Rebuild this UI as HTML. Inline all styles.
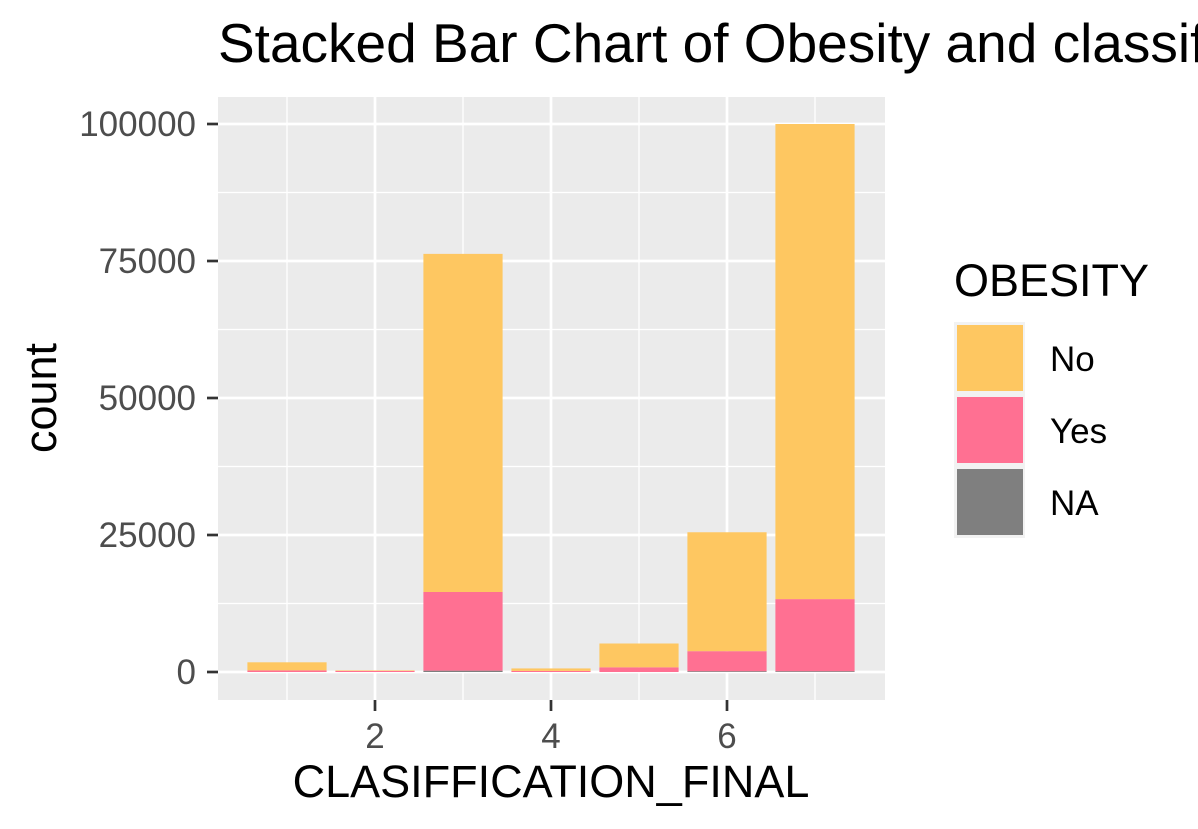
<!DOCTYPE html>
<html><head><meta charset="utf-8">
<style>
body{margin:0;background:#fff;}
svg{display:block;font-family:"Liberation Sans",Arial,sans-serif;}
</style></head>
<body>
<svg id="chart" width="1198" height="829">
<text x="218" y="62" font-size="55" fill="#000">Stacked Bar Chart of Obesity and classification</text>
<rect x="218" y="97" width="667" height="603" fill="#ebebeb"/>
<g id="grid"></g>
<g id="bars"></g>
<g id="axes"></g>
<text x="551" y="797" font-size="45" text-anchor="middle" fill="#000">CLASIFFICATION_FINAL</text>
<text transform="translate(56,398) rotate(-90)" font-size="45" text-anchor="middle" fill="#000">count</text>
<g>
<text x="954" y="296" font-size="45" fill="#000">OBESITY</text>
<rect x="954" y="322" width="71" height="216" fill="#f2f2f2"/>
<rect x="957" y="325" width="66" height="66" fill="#fec761"/>
<rect x="957" y="397" width="66" height="66" fill="#ff7092"/>
<rect x="957" y="469" width="66" height="66" fill="#7f7f7f"/>
<text x="1050" y="371" font-size="35" fill="#000">No</text>
<text x="1050" y="443" font-size="35" fill="#000">Yes</text>
<text x="1050" y="515" font-size="35" fill="#000">NA</text>
</g>
</svg>
<script>
const categories=[1,2,3,4,5,6,7];
const naValues=[0,0,250,0,0,150,150];
const yesValues=[300,200,14350,200,850,3650,13150];
const noValues=[1470,100,61700,450,4350,21700,86700];
const yTicks=[0,25000,50000,75000,100000];
const xTicks=[2,4,6];
const NS="http://www.w3.org/2000/svg";
const yS=v=>672-v*548/100000;
const xS=c=>287+(c-1)*88;
const bw=0.9*88;
function mk(tag,attrs,parent){const e=document.createElementNS(NS,tag);for(const k in attrs)e.setAttribute(k,attrs[k]);parent.appendChild(e);return e;}
const grid=document.getElementById('grid'),bars=document.getElementById('bars'),axes=document.getElementById('axes');
for(let i=0;i<yTicks.length-1;i++){const v=(yTicks[i]+yTicks[i+1])/2;const l=mk('line',{x1:218,x2:885,y1:yS(v),y2:yS(v),stroke:'#fff','stroke-width':1.3},grid);

}
[1,3,5,7].forEach(v=>{const l=mk('line',{x1:xS(v),x2:xS(v),y1:97,y2:700,stroke:'#fff','stroke-width':1.3},grid);

});
yTicks.forEach(v=>{const l=mk('line',{x1:218,x2:885,y1:yS(v),y2:yS(v),stroke:'#fff','stroke-width':2.7},grid);


const t=mk('line',{x1:207,x2:218,y1:yS(v),y2:yS(v),stroke:'#333','stroke-width':2.7},axes);


const tx=mk('text',{x:196,y:yS(v)+12,'font-size':35,'text-anchor':'end',fill:'#4d4d4d'},axes);tx.textContent=v;

});
xTicks.forEach(v=>{const l=mk('line',{x1:xS(v),x2:xS(v),y1:97,y2:700,stroke:'#fff','stroke-width':2.7},grid);


const t=mk('line',{x1:xS(v),x2:xS(v),y1:700,y2:711,stroke:'#333','stroke-width':2.7},axes);


const tx=mk('text',{x:xS(v),y:748,'font-size':35,'text-anchor':'middle',fill:'#4d4d4d'},axes);tx.textContent=v;

});
categories.forEach((c,i)=>{
 let base=0;
 [[naValues[i],'#7f7f7f','na'],[yesValues[i],'#ff7092','yes'],[noValues[i],'#fec761','no']].forEach(([v,col,n])=>{
  if(v<=0)return;
  const r=mk('rect',{x:xS(c)-bw/2,y:yS(base+v),width:bw,height:yS(base)-yS(base+v),fill:col},bars);
  
  
  base+=v;
 });
});
</script>
</body></html>
